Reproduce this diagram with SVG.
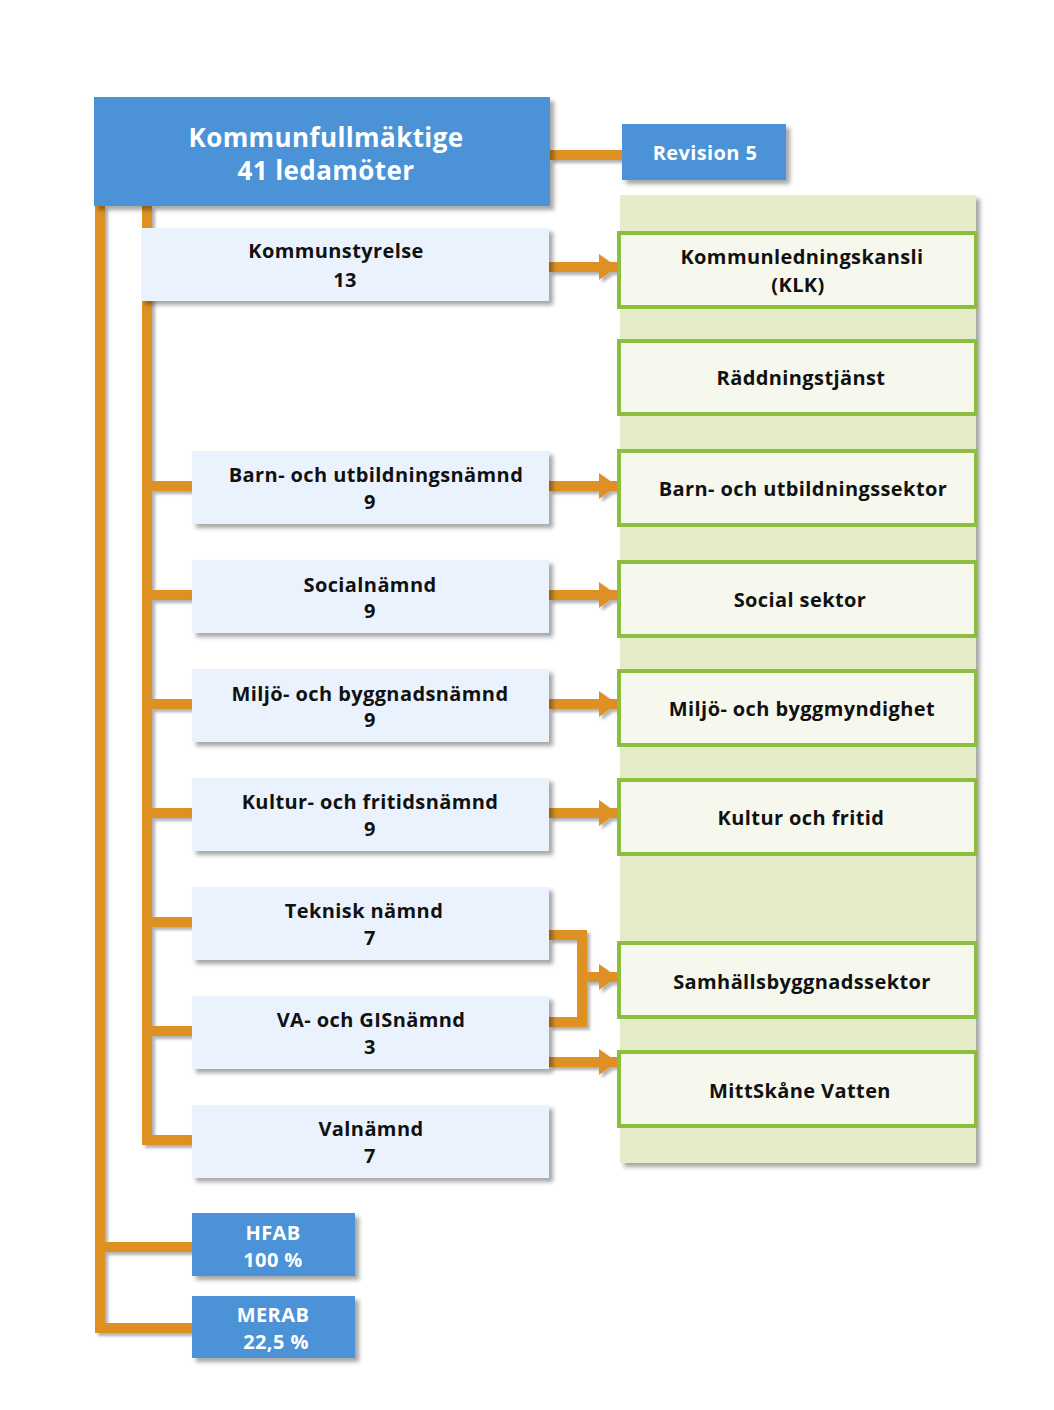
<svg xmlns="http://www.w3.org/2000/svg" width="1054" height="1410" viewBox="0 0 1054 1410">
<defs>
<filter id="sh" x="-10%" y="-10%" width="130%" height="140%"><feDropShadow dx="4" dy="4" stdDeviation="2" flood-color="#000" flood-opacity="0.35"/></filter>
<filter id="lsh" x="-10%" y="-10%" width="130%" height="130%"><feDropShadow dx="3" dy="3" stdDeviation="1.5" flood-color="#000" flood-opacity="0.3"/></filter>
<marker id="ah" markerUnits="userSpaceOnUse" markerWidth="20" markerHeight="30" refX="18" refY="15" orient="auto"><path d="M0,2 L18,15 L0,28 Z" fill="#de9122"/></marker>
</defs>
<style>
.blue{fill:#4c93d6;filter:url(#sh)}
.lb{fill:#eaf3fd;filter:url(#sh)}
.gb{fill:#f6f8ee;stroke:#8dbf3e;stroke-width:4}
.panel{fill:#e5ecca;filter:url(#sh)}
.c{fill:none;stroke:#de9122;stroke-width:10}
text{font-family:"Open Sans","Noto Sans","DejaVu Sans",sans-serif;font-weight:700;text-anchor:middle;letter-spacing:0.4px}
.w{fill:#fff}
.k{fill:#111;font-size:20px}
</style>
<rect class="panel" x="620" y="195" width="356" height="968"/>
<g id="connectors" filter="url(#lsh)">
<path class="c" d="M550,155 H622"/>
<path class="c" d="M100,206 V1328 H192"/>
<path class="c" d="M100,1247 H192"/>
<path class="c" d="M147,206 V1140 H192"/>
<path class="c" d="M147,486 H192 M147,595 H192 M147,704 H192 M147,813 H192 M147,922 H192 M147,1031 H192"/>
<path class="c" d="M549,267 H617" marker-end="url(#ah)"/>
<path class="c" d="M549,486 H617" marker-end="url(#ah)"/>
<path class="c" d="M549,595 H617" marker-end="url(#ah)"/>
<path class="c" d="M549,704 H617" marker-end="url(#ah)"/>
<path class="c" d="M549,813 H617" marker-end="url(#ah)"/>
<path class="c" d="M549,935 H582 V1022 H549"/>
<path class="c" d="M582,977 H617" marker-end="url(#ah)"/>
<path class="c" d="M549,1062 H617" marker-end="url(#ah)"/>
</g>
<g id="kf"><rect class="blue" x="94" y="97" width="456" height="109"/><text class="w" x="326" y="147" font-size="26">Kommunfullmäktige</text><text class="w" x="326" y="180" font-size="26">41 ledamöter</text></g>
<g id="revision"><rect class="blue" x="622" y="124" width="164" height="56"/><text class="w" x="705" y="160" font-size="20">Revision 5</text></g>
<g id="ks"><rect class="lb" x="141" y="228" width="408" height="73"/><text class="k" x="336" y="258">Kommunstyrelse</text><text class="k" x="345" y="287">13</text></g>
<g id="bun"><rect class="lb" x="192" y="451" width="357" height="73"/><text class="k" x="376" y="482">Barn- och utbildningsnämnd</text><text class="k" x="370" y="509">9</text></g>
<g id="sn"><rect class="lb" x="192" y="560" width="357" height="73"/><text class="k" x="370" y="592">Socialnämnd</text><text class="k" x="370" y="618">9</text></g>
<g id="mbn"><rect class="lb" x="192" y="669" width="357" height="73"/><text class="k" x="370" y="701">Miljö- och byggnadsnämnd</text><text class="k" x="370" y="727">9</text></g>
<g id="kfn"><rect class="lb" x="192" y="778" width="357" height="73"/><text class="k" x="370" y="809">Kultur- och fritidsnämnd</text><text class="k" x="370" y="836">9</text></g>
<g id="tn"><rect class="lb" x="192" y="887" width="357" height="73"/><text class="k" x="364" y="918">Teknisk nämnd</text><text class="k" x="370" y="945">7</text></g>
<g id="va"><rect class="lb" x="192" y="996" width="357" height="73"/><text class="k" x="371" y="1027">VA- och GISnämnd</text><text class="k" x="370" y="1054">3</text></g>
<g id="vn"><rect class="lb" x="192" y="1105" width="357" height="73"/><text class="k" x="371" y="1136">Valnämnd</text><text class="k" x="370" y="1163">7</text></g>
<g id="hfab"><rect class="blue" x="192" y="1213" width="163" height="63"/><text class="w" x="273" y="1240" font-size="20">HFAB</text><text class="w" x="273" y="1267" font-size="20">100 %</text></g>
<g id="merab"><rect class="blue" x="192" y="1296" width="163" height="62"/><text class="w" x="273" y="1322" font-size="20">MERAB</text><text class="w" x="276" y="1349" font-size="20">22,5 %</text></g>
<g id="klk"><rect class="gb" x="619" y="233" width="357" height="74"/><text class="k" x="802" y="264">Kommunledningskansli</text><text class="k" x="798" y="292">(KLK)</text></g>
<g id="rt"><rect class="gb" x="619" y="341" width="357" height="73"/><text class="k" x="801" y="385">Räddningstjänst</text></g>
<g id="bus"><rect class="gb" x="619" y="451" width="357" height="74"/><text class="k" x="803" y="496">Barn- och utbildningssektor</text></g>
<g id="ss"><rect class="gb" x="619" y="562" width="357" height="74"/><text class="k" x="800" y="607">Social sektor</text></g>
<g id="mbm"><rect class="gb" x="619" y="671" width="357" height="74"/><text class="k" x="802" y="716">Miljö- och byggmyndighet</text></g>
<g id="kof"><rect class="gb" x="619" y="780" width="357" height="74"/><text class="k" x="801" y="825">Kultur och fritid</text></g>
<g id="sbs"><rect class="gb" x="619" y="943" width="357" height="74"/><text class="k" x="802" y="989">Samhällsbyggnadssektor</text></g>
<g id="msv"><rect class="gb" x="619" y="1052" width="357" height="74"/><text class="k" x="800" y="1098">MittSkåne Vatten</text></g>
</svg>
